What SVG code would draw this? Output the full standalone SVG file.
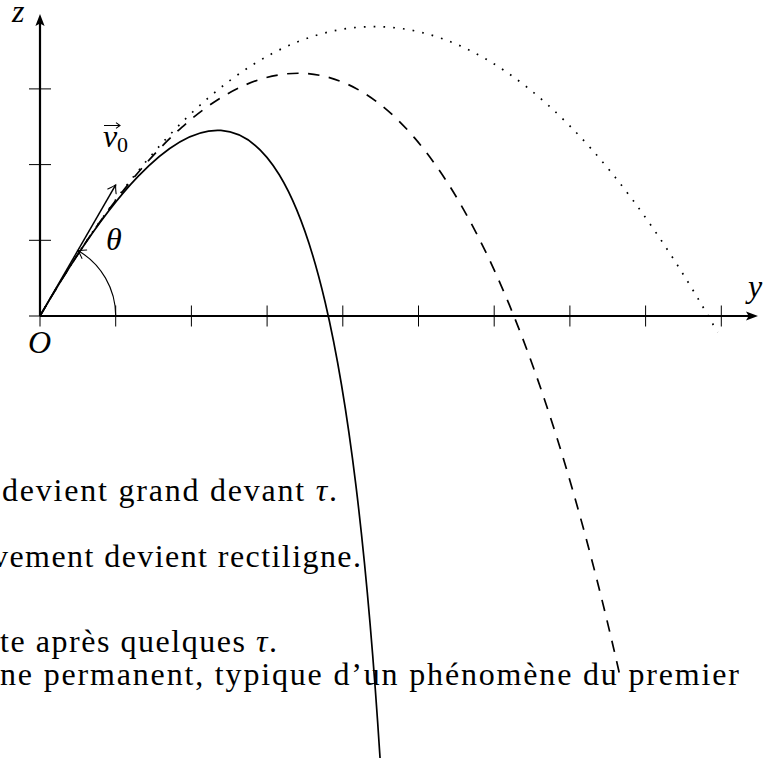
<svg xmlns="http://www.w3.org/2000/svg" width="775" height="758" viewBox="0 0 775 758">
<style>
.ax{stroke:#000;stroke-width:2.2;fill:none}
.tk{stroke:#000;stroke-width:1;fill:none}
.cv{stroke:#000;stroke-width:1.7;fill:none}
.dash{stroke-dasharray:11.5 9.5}
.dot{stroke-dasharray:1.7 8.1}
.math{font-family:"Liberation Serif",serif;font-style:italic;font-size:32px;fill:#000}
.sub{font-family:"Liberation Serif",serif;font-size:22px;fill:#000}
.body{font-family:"Liberation Serif",serif;font-size:32px;fill:#000}
.it{font-style:italic}
</style>
<defs>
<marker id="barb" markerUnits="userSpaceOnUse" viewBox="-9 -6 10 12" markerWidth="10" markerHeight="12" refX="0" refY="0" orient="auto" overflow="visible">
<path d="M -7.5 -4.8 C -4.5 -2.6 -1.8 -0.8 0 0 C -1.8 0.8 -4.5 2.6 -7.5 4.8" fill="none" stroke="#000" stroke-width="1.1" stroke-linecap="round"/>
</marker>
</defs>
<g id="axes">
<line class="ax" x1="40" y1="316" x2="750" y2="316"/>
<polygon points="758,316 746,320.6 748.6,316 746,311.4" fill="#000"/>
<line class="ax" x1="40" y1="316" x2="40" y2="22"/>
<polygon points="40,14 44.6,26 40,23.4 35.4,26" fill="#000"/>
<path class="tk" d="M29 316H51M40 305.5V326.5M115.7 305.5V326.5M191.4 305.5V326.5M267.1 305.5V326.5M342.8 305.5V326.5M418.5 305.5V326.5M494.2 305.5V326.5M569.9 305.5V326.5M645.6 305.5V326.5M721.3 305.5V326.5M29 240.3H51M29 164.6H51M29 88.9H51"/>
</g>
<g id="text">
<text class="body" x="2" y="501" textLength="335" lengthAdjust="spacing">devient grand devant <tspan class="it">τ</tspan>.</text>
<text class="body" x="-8" y="567" textLength="369" lengthAdjust="spacing">vement devient rectiligne.</text>
<text class="body" x="0" y="652" textLength="277" lengthAdjust="spacing">te après quelques <tspan class="it">τ</tspan>.</text>
<text class="body" x="0" y="685" textLength="739" lengthAdjust="spacing">ne permanent, typique d’un phénomène du premier</text>
</g>
<g id="connectors">
<path id="parabola" class="cv dot" d="M40 316Q378.8 -270.8 717.5 332.3"/>
<path id="drag-tau3" class="cv dash" d="M40 316C90.47 228.59 137.57 166.78 181.74 127.36C225.91 87.94 267.14 70.92 305.79 73.5C344.44 76.08 380.52 98.27 414.35 137.61C448.18 176.95 479.75 233.44 509.36 304.95C531.57 358.58 552.67 420.66 572.76 490.39C589.5 548.5 605.55 611.94 620.95 680.25"/>
<path id="drag-tau1" class="cv" d="M40 316C77.85 250.44 110.06 205.72 138.1 176.4C170.81 142.2 197.86 128.96 220.91 130.44C243.96 131.92 263.02 148.17 279.26 174.8C297.83 205.23 312.71 249.24 325.16 302.28C337.61 355.32 347.6 417.45 355.94 485.65C366.16 569.2 373.91 661.83 380.17 760"/>
<line id="v0" x1="40" y1="316" x2="115.7" y2="184.9" stroke="#000" stroke-width="1.5" marker-end="url(#barb)"/>
<path id="theta-arc" d="M115.7 316A75.7 75.7 0 0 0 77.85 250.44" fill="none" stroke="#000" stroke-width="1.1" marker-end="url(#barb)"/>
</g>
<g id="labels">
<text class="math" x="12" y="22">z</text>
<text class="math" x="28" y="353">O</text>
<text class="math" x="748" y="297">y</text>
<text class="math" x="106" y="250">θ</text>
<g id="v0-label">
<text class="math" x="103" y="147">v</text>
<text class="sub" x="117" y="152">0</text>
<path d="M104 125.5H119.5M116 122.6L120 125.5L116 128.4" fill="none" stroke="#000" stroke-width="1.1"/>
</g>
</g>
</svg>
